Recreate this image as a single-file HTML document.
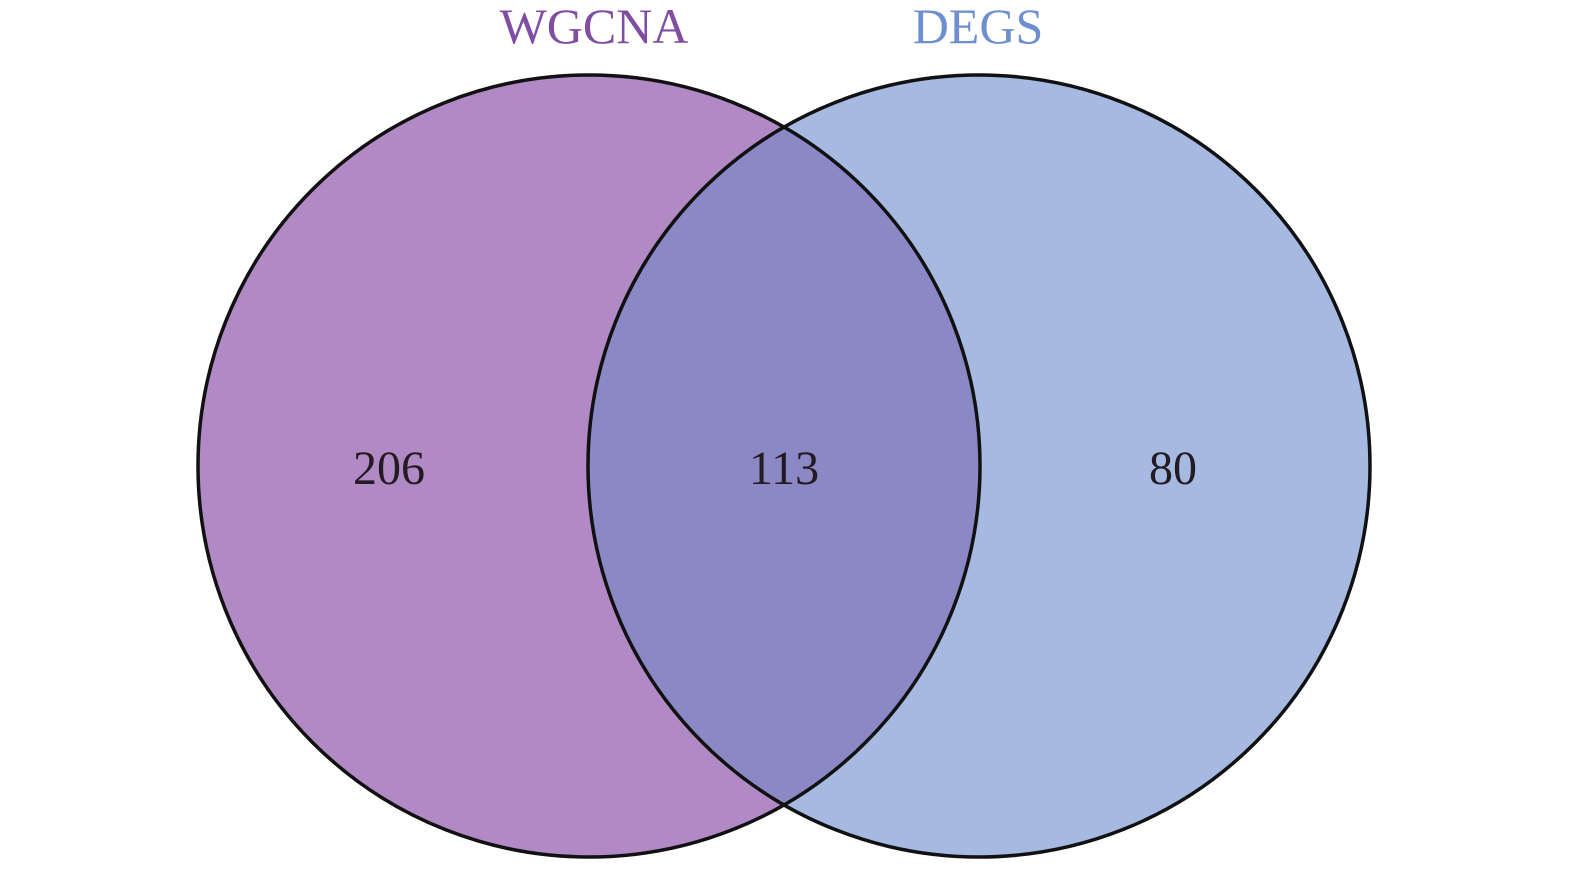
<!DOCTYPE html>
<html><head><style>html,body{margin:0;padding:0;background:#fff}</style></head><body>
<svg width="1575" height="864" viewBox="0 0 1575 864" xmlns="http://www.w3.org/2000/svg">
<defs>
<clipPath id="cl"><circle cx="589" cy="466" r="391"/></clipPath>
</defs>
<circle cx="589" cy="466" r="391" fill="#b189c5"/>
<circle cx="979" cy="466" r="391" fill="#a5b9e1"/>
<circle cx="979" cy="466" r="391" fill="#8b89c5" clip-path="url(#cl)"/>
<circle cx="589" cy="466" r="391" fill="none" stroke="#111" stroke-width="3.5"/>
<circle cx="979" cy="466" r="391" fill="none" stroke="#111" stroke-width="3.5"/>
<g font-family="Liberation Serif, serif" font-size="50" text-anchor="middle">
<text x="594" y="43" fill="#7f4ea3">WGCNA</text>
<text x="978" y="43" fill="#6d8fd0">DEGS</text>
<g fill="#231a22" font-size="48">
<text x="389" y="484">206</text>
<text x="784" y="484">113</text>
<text x="1173" y="484">80</text>
</g></g>
</svg>
</body></html>
